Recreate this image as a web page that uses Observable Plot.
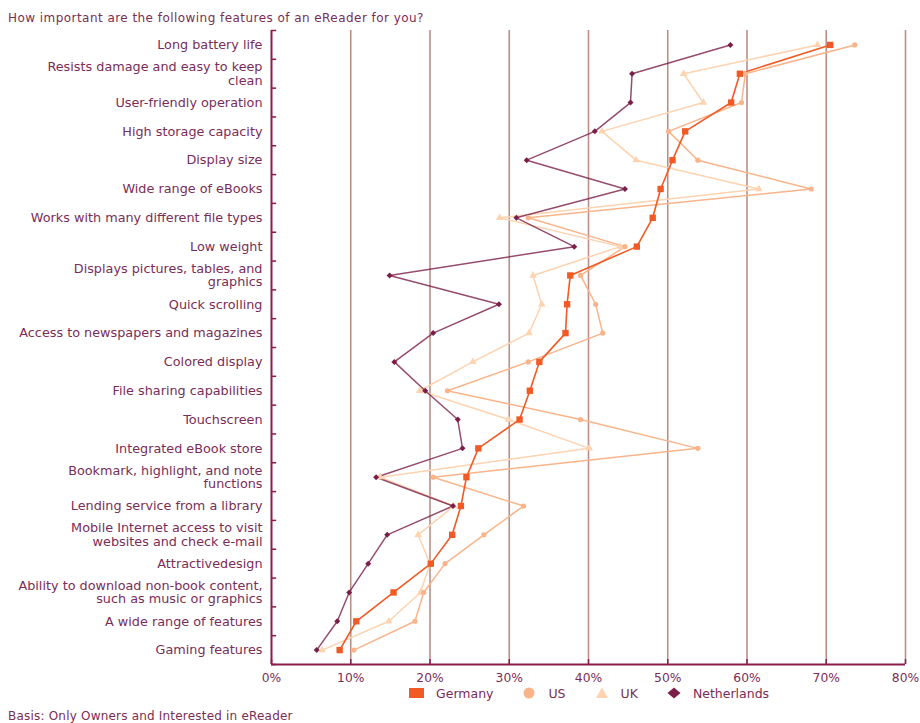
<!DOCTYPE html>
<html>
<head>
<meta charset="utf-8">
<script src="https://cdn.jsdelivr.net/npm/d3@7"></script>
<script src="https://cdn.jsdelivr.net/npm/@observablehq/plot@0.6"></script>
<style>
  body { margin: 0; background: #fff; font-family: "DejaVu Sans", sans-serif; color: #7a2d55; }
  #wrap { position: relative; width: 920px; height: 723px; overflow: hidden; }
  #title { position: absolute; left: 8px; top: 11px; font-size: 12px; letter-spacing: 0.45px; line-height: 14px; white-space: nowrap; }
  #chart { position: absolute; left: 0; top: 24px; }
  #legend { position: absolute; left: 409px; top: 686px; height: 14px; display: flex; align-items: center; font-size: 12.5px; }
  #legend .item { display: flex; align-items: center; margin-right: 29px; }
  #legend svg { margin-right: 12px; }
  #caption { position: absolute; left: 8px; top: 709px; font-size: 12px; letter-spacing: 0.2px; line-height: 14px; white-space: nowrap; }
</style>
</head>
<body>
<div id="wrap">
  <div id="title"></div>
  <div id="chart"></div>
  <div id="legend"></div>
  <div id="caption"></div>
</div>
<script>
const titleText = "How important are the following features of an eReader for you?";
const captionText = "Basis: Only Owners and Interested in eReader";

const categories = [
  "Long battery life",
  "Resists damage and easy to keep\nclean",
  "User-friendly operation",
  "High storage capacity",
  "Display size",
  "Wide range of eBooks",
  "Works with many different file types",
  "Low weight",
  "Displays pictures, tables, and\ngraphics",
  "Quick scrolling",
  "Access to newspapers and magazines",
  "Colored display",
  "File sharing capabilities",
  "Touchscreen",
  "Integrated eBook store",
  "Bookmark, highlight, and note\nfunctions",
  "Lending service from a library",
  "Mobile Internet access to visit\nwebsites and check e-mail",
  "Attractivedesign",
  "Ability to download non-book content,\nsuch as music or graphics",
  "A wide range of features",
  "Gaming features"
];

const germany     = [70.5, 59.1, 58.0, 52.2, 50.6, 49.1, 48.1, 46.1, 37.7, 37.3, 37.1, 33.8, 32.6, 31.3, 26.1, 24.6, 23.9, 22.8, 20.1, 15.4, 10.7, 8.6];
const us          = [73.6, 59.8, 59.3, 50.1, 53.8, 68.1, 32.4, 44.6, 39.0, 40.9, 41.8, 32.4, 22.2, 39.0, 53.8, 20.4, 31.8, 26.8, 21.9, 19.2, 18.1, 10.4];
const uk          = [68.9, 52.0, 54.5, 41.7, 46.0, 61.5, 28.8, 44.0, 33.0, 34.1, 32.5, 25.4, 18.7, 29.9, 40.1, 13.7, 23.0, 18.5, 20.0, 18.8, 14.8, 6.4];
const netherlands = [57.9, 45.5, 45.3, 40.8, 32.2, 44.6, 30.9, 38.2, 14.9, 28.7, 20.4, 15.5, 19.4, 23.5, 24.1, 13.2, 22.9, 14.6, 12.2, 9.8, 8.3, 5.7];

const seriesNames = ["Germany", "US", "UK", "Netherlands"];
const seriesColors = ["#f15a24", "#f9b48a", "#fdd3b0", "#7a1f48"];
const seriesSymbols = ["square", "circle", "triangle", "diamond2"];
const xTicks = [0, 10, 20, 30, 40, 50, 60, 70, 80];

const axisColor = "#8a1d4c";
const gridColor = "#bb8f86";
const textColor = "#7a2d58";

const rows = [];
[germany, us, uk, netherlands].forEach((vals, s) =>
  vals.forEach((v, i) => rows.push({series: seriesNames[s], cat: i, value: v}))
);

const n = categories.length;
const boundaries = d3.range(n + 1).map(i => i - 0.5);

const styleFor = {
  Germany:     {r: 3.6, lw: 1.6, op: 1},
  US:          {r: 2.6, lw: 1.5, op: 1},
  UK:          {r: 2.8, lw: 1.5, op: 1},
  Netherlands: {r: 2.7, lw: 1.5, op: 0.8}
};
const drawOrder = ["UK", "US", "Netherlands", "Germany"];

const seriesMarks = [];
for (const s of drawOrder) {
  const data = rows.filter(d => d.series === s);
  const st = styleFor[s];
  seriesMarks.push(Plot.line(data, {x: "value", y: "cat", stroke: "series", strokeWidth: st.lw, strokeOpacity: st.op, curve: "linear"}));
}
for (const s of drawOrder) {
  const data = rows.filter(d => d.series === s);
  const st = styleFor[s];
  seriesMarks.push(Plot.dot(data, {x: "value", y: "cat", symbol: "series", fill: "series", stroke: "none", r: st.r}));
}

const chart = Plot.plot({
  width: 920,
  height: 664,
  marginLeft: 271,
  marginRight: 15,
  marginTop: 6,
  marginBottom: 24,
  x: {domain: [0, 80]},
  y: {domain: [-0.5, n - 0.5], reverse: true},
  color: {domain: seriesNames, range: seriesColors},
  symbol: {domain: seriesNames, range: seriesSymbols},
  style: {fontFamily: "DejaVu Sans, sans-serif", fontSize: "12.8px", color: textColor, background: "transparent"},
  marks: [
    Plot.ruleX(xTicks.slice(1), {stroke: gridColor, strokeWidth: 1.6}),
    Plot.ruleY(boundaries, {x1: 0, x2: 0.65, stroke: axisColor, strokeWidth: 1.5}),
    Plot.ruleX(xTicks, {y1: n - 0.5, y2: n - 0.5 - 0.17, stroke: axisColor, strokeWidth: 1.5}),
    Plot.ruleX([0], {stroke: axisColor, strokeWidth: 2}),
    Plot.ruleY([n - 0.5], {stroke: axisColor, strokeWidth: 2}),
    Plot.axisY({ticks: d3.range(n), tickFormat: i => categories[i], tickSize: 0, tickPadding: 9, label: null, lineHeight: 1.05, fill: textColor}),
    Plot.axisX({ticks: xTicks, tickFormat: d => d + "%", tickSize: 0, tickPadding: 9, label: null, fill: textColor, fontSize: "12.3px"}),
    ...seriesMarks
  ]
});
document.getElementById("chart").appendChild(chart);

document.getElementById("title").textContent = titleText;
document.getElementById("caption").textContent = captionText;

// Legend
const legend = document.getElementById("legend");
seriesNames.forEach((name, i) => {
  const item = document.createElement("div");
  item.className = "item";
  const sw = 14, sh = 12;
  let shape;
  const c = seriesColors[i];
  if (seriesSymbols[i] === "square") shape = `<rect x="0" y="1" width="15" height="10" fill="${c}"/>`;
  else if (seriesSymbols[i] === "circle") shape = `<circle cx="7" cy="6" r="5.5" fill="${c}"/>`;
  else if (seriesSymbols[i] === "triangle") shape = `<path d="M7,0.5L13,11L1,11Z" fill="${c}"/>`;
  else shape = `<path d="M7,0.5L13.5,6L7,11.5L0.5,6Z" fill="${c}"/>`;
  item.innerHTML = `<svg width="${i === 0 ? 15 : sw}" height="${sh}">${shape}</svg><span>${name}</span>`;
  legend.appendChild(item);
});
</script>
</body>
</html>
